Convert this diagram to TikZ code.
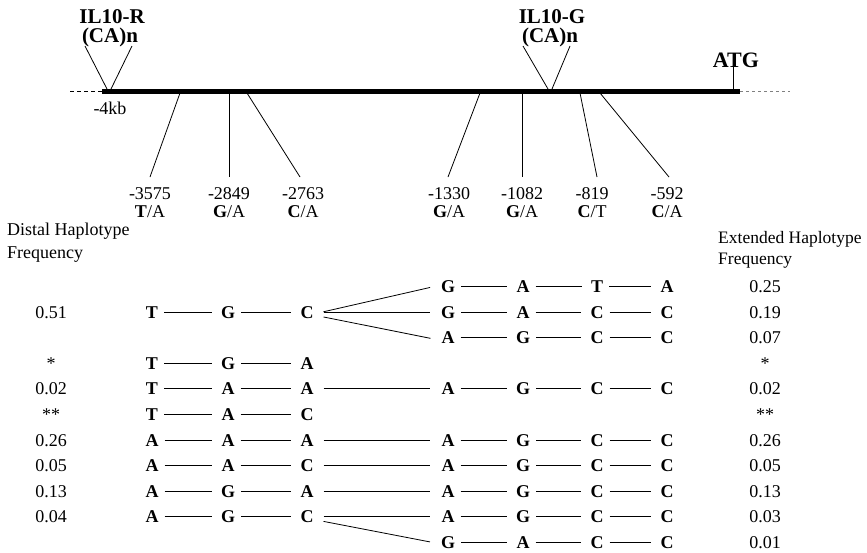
\documentclass[tikz,border=0pt]{standalone}
\usepackage{fontspec}
\setmainfont{Liberation Serif}
\begin{document}
\begin{tikzpicture}[x=1pt,y=-1pt,
  txt/.style={inner sep=0pt, font=\fontsize{18}{20}\selectfont},
  nuc/.style={txt, font=\fontsize{18}{20}\selectfont\bfseries, text height=12pt, text depth=0pt},
  freq/.style={txt, text height=12pt, text depth=0pt},
  big/.style={inner sep=0pt, font=\fontsize{21}{22}\selectfont\bfseries},
  conn/.style={line width=0.8pt, shorten <=6pt, shorten >=9pt},
  lconn/.style={line width=0.8pt, shorten <=10pt, shorten >=11pt},
  tick/.style={line width=0.8pt}]
\useasboundingbox (0,0) rectangle (867,552);
\def\ca{152}\def\cb{228}\def\cc{307}\def\cd{448}\def\ce{523}\def\cf{597}\def\cg{667}
\def\fl{51}\def\fr{765}
% gene line
\coordinate (L0) at (70,91); \coordinate (L1) at (102,91);
\coordinate (L2) at (740,91); \coordinate (L3) at (790,91);
\draw[line width=1pt, dash pattern=on 4pt off 3pt] (L0) -- (L1);
\draw[line width=5pt] (L1) -- (L2);
\draw[line width=0.8pt, gray, dash pattern=on 3pt off 3pt] (L2) -- (L3);
% ATG
\node[big, font=\fontsize{22}{22}\selectfont\bfseries, anchor=base] (atg) at (736,67) {ATG};
\coordinate (atgb) at (733,89);
\draw[tick] (atg.south -| atgb) -- (atgb);
% IL10-R
\node[big, anchor=base, text depth=0pt] (ilr) at (112,23) {IL10-R};
\node[big, anchor=base, text height=13pt] (car) at (110,42) {(CA)n};
\coordinate (r1) at (85,46); \coordinate (r2) at (107,89);
\coordinate (r3) at (132,46); \coordinate (r4) at (111,89);
\draw[tick] (r1) -- (r2); \draw[tick] (r3) -- (r4);
\node[txt, anchor=base] (kb) at (110,114) {-4kb};
% IL10-G
\node[big, anchor=base, text depth=0pt] (ilg) at (552,23) {IL10-G};
\node[big, anchor=base, text height=13pt] (cag) at (550,42) {(CA)n};
\coordinate (g1) at (523,46); \coordinate (g2) at (548,89);
\coordinate (g3) at (570,46); \coordinate (g4) at (552,89);
\draw[tick] (g1) -- (g2); \draw[tick] (g3) -- (g4);
% SNP ticks and labels
\foreach \n/\tx/\bx/\lx/\num/\al in {
  1/180/150/150/-3575/{\textbf{T}/A},
  2/229/229/229/-2849/{\textbf{G}/A},
  3/247/300/303/-2763/{\textbf{C}/A},
  4/480/448/449/-1330/{\textbf{G}/A},
  5/522/522/522/-1082/{\textbf{G}/A},
  6/580/597/592/-819/{\textbf{C}/T},
  7/600/669/667/-592/{\textbf{C}/A}}{
  \coordinate (st\n) at (\tx,93);
  \coordinate (sb\n) at (\bx,177);
  \draw[tick] (st\n) -- (sb\n);
  \node[freq] (sn\n) at (\lx,193) {\num};
  \node[freq] (sa\n) at (\lx,211) {\al};
}
% column headings
\node[txt, anchor=base west] (dh1) at (7,235) {Distal Haplotype};
\node[txt, anchor=base west] (dh2) at (7,258) {Frequency};
\node[txt, anchor=base west, font=\fontsize{17.5}{20}\selectfont] (eh1) at (718,243) {Extended Haplotype};
\node[txt, anchor=base west, font=\fontsize{17.5}{20}\selectfont] (eh2) at (718,264) {Frequency};
% rows
\def\ya{286}\def\yb{312}\def\yc{337.5}\def\yd{363}\def\ye{388.5}\def\yf{414}
\def\yg{440}\def\yh{465.5}\def\yi{491}\def\yj{516.5}\def\yk{542}
% row 1
\node[nuc] (a4) at (\cd,\ya) {G}; \node[nuc] (a5) at (\ce,\ya) {A};
\node[nuc] (a6) at (\cf,\ya) {T}; \node[nuc] (a7) at (\cg,\ya) {A};
\draw[conn] (a4) -- (a5); \draw[conn] (a5) -- (a6); \draw[conn] (a6) -- (a7);
\node[freq] (fa) at (\fr,\ya) {0.25};
% row 2
\node[nuc] (b1) at (\ca,\yb) {T}; \node[nuc] (b2) at (\cb,\yb) {G}; \node[nuc] (b3) at (\cc,\yb) {C};
\node[nuc] (b4) at (\cd,\yb) {G}; \node[nuc] (b5) at (\ce,\yb) {A};
\node[nuc] (b6) at (\cf,\yb) {C}; \node[nuc] (b7) at (\cg,\yb) {C};
\draw[conn] (b1) -- (b2); \draw[conn] (b2) -- (b3);
\draw[conn] (b4) -- (b5); \draw[conn] (b5) -- (b6); \draw[conn] (b6) -- (b7);
\node[freq] (lb) at (\fl,\yb) {0.51}; \node[freq] (fb) at (\fr,\yb) {0.19};
% row 3
\node[nuc] (c4) at (\cd,\yc) {A}; \node[nuc] (c5) at (\ce,\yc) {G};
\node[nuc] (c6) at (\cf,\yc) {C}; \node[nuc] (c7) at (\cg,\yc) {C};
\draw[conn] (c4) -- (c5); \draw[conn] (c5) -- (c6); \draw[conn] (c6) -- (c7);
\node[freq] (fc) at (\fr,\yc) {0.07};
% fan from b3
\draw[lconn] ([yshift=-2pt]b3.east) -- ([yshift=1pt]a4.west);
\draw[lconn] (b3.east) -- (b4.west);
\draw[lconn] ([yshift=-3pt]b3.east) -- ([yshift=-3pt]c4.west);
% row 4
\node[nuc] (d1) at (\ca,\yd) {T}; \node[nuc] (d2) at (\cb,\yd) {G}; \node[nuc] (d3) at (\cc,\yd) {A};
\draw[conn] (d1) -- (d2); \draw[conn] (d2) -- (d3);
\node[freq] (ld) at (\fl,\yd) {*}; \node[freq] (fd) at (\fr,\yd) {*};
% row 5
\node[nuc] (e1) at (\ca,\ye) {T}; \node[nuc] (e2) at (\cb,\ye) {A}; \node[nuc] (e3) at (\cc,\ye) {A};
\node[nuc] (e4) at (\cd,\ye) {A}; \node[nuc] (e5) at (\ce,\ye) {G};
\node[nuc] (e6) at (\cf,\ye) {C}; \node[nuc] (e7) at (\cg,\ye) {C};
\draw[conn] (e1) -- (e2); \draw[conn] (e2) -- (e3); \draw[lconn] (e3) -- (e4);
\draw[conn] (e4) -- (e5); \draw[conn] (e5) -- (e6); \draw[conn] (e6) -- (e7);
\node[freq] (le) at (\fl,\ye) {0.02}; \node[freq] (fe) at (\fr,\ye) {0.02};
% row 6
\node[nuc] (f1) at (\ca,\yf) {T}; \node[nuc] (f2) at (\cb,\yf) {A}; \node[nuc] (f3) at (\cc,\yf) {C};
\draw[conn] (f1) -- (f2); \draw[conn] (f2) -- (f3);
\node[freq] (lf) at (\fl,\yf) {**}; \node[freq] (ff) at (\fr,\yf) {**};
% row 7
\node[nuc] (g1n) at (\ca,\yg) {A}; \node[nuc] (g2n) at (\cb,\yg) {A}; \node[nuc] (g3n) at (\cc,\yg) {A};
\node[nuc] (g4n) at (\cd,\yg) {A}; \node[nuc] (g5n) at (\ce,\yg) {G};
\node[nuc] (g6n) at (\cf,\yg) {C}; \node[nuc] (g7n) at (\cg,\yg) {C};
\draw[conn] (g1n) -- (g2n); \draw[conn] (g2n) -- (g3n); \draw[lconn] (g3n) -- (g4n);
\draw[conn] (g4n) -- (g5n); \draw[conn] (g5n) -- (g6n); \draw[conn] (g6n) -- (g7n);
\node[freq] (lg) at (\fl,\yg) {0.26}; \node[freq] (fg) at (\fr,\yg) {0.26};
% row 8
\node[nuc] (h1) at (\ca,\yh) {A}; \node[nuc] (h2) at (\cb,\yh) {A}; \node[nuc] (h3) at (\cc,\yh) {C};
\node[nuc] (h4) at (\cd,\yh) {A}; \node[nuc] (h5) at (\ce,\yh) {G};
\node[nuc] (h6) at (\cf,\yh) {C}; \node[nuc] (h7) at (\cg,\yh) {C};
\draw[conn] (h1) -- (h2); \draw[conn] (h2) -- (h3); \draw[lconn] (h3) -- (h4);
\draw[conn] (h4) -- (h5); \draw[conn] (h5) -- (h6); \draw[conn] (h6) -- (h7);
\node[freq] (lh) at (\fl,\yh) {0.05}; \node[freq] (fh) at (\fr,\yh) {0.05};
% row 9
\node[nuc] (i1) at (\ca,\yi) {A}; \node[nuc] (i2) at (\cb,\yi) {G}; \node[nuc] (i3) at (\cc,\yi) {A};
\node[nuc] (i4) at (\cd,\yi) {A}; \node[nuc] (i5) at (\ce,\yi) {G};
\node[nuc] (i6) at (\cf,\yi) {C}; \node[nuc] (i7) at (\cg,\yi) {C};
\draw[conn] (i1) -- (i2); \draw[conn] (i2) -- (i3); \draw[lconn] (i3) -- (i4);
\draw[conn] (i4) -- (i5); \draw[conn] (i5) -- (i6); \draw[conn] (i6) -- (i7);
\node[freq] (li) at (\fl,\yi) {0.13}; \node[freq] (fi) at (\fr,\yi) {0.13};
% row 10
\node[nuc] (j1) at (\ca,\yj) {A}; \node[nuc] (j2) at (\cb,\yj) {G}; \node[nuc] (j3) at (\cc,\yj) {C};
\node[nuc] (j4) at (\cd,\yj) {A}; \node[nuc] (j5) at (\ce,\yj) {G};
\node[nuc] (j6) at (\cf,\yj) {C}; \node[nuc] (j7) at (\cg,\yj) {C};
\draw[conn] (j1) -- (j2); \draw[conn] (j2) -- (j3); \draw[lconn] (j3) -- (j4);
\draw[conn] (j4) -- (j5); \draw[conn] (j5) -- (j6); \draw[conn] (j6) -- (j7);
\node[freq] (lj) at (\fl,\yj) {0.04}; \node[freq] (fj) at (\fr,\yj) {0.03};
% row 11
\node[nuc] (k4) at (\cd,\yk) {G}; \node[nuc] (k5) at (\ce,\yk) {A};
\node[nuc] (k6) at (\cf,\yk) {C}; \node[nuc] (k7) at (\cg,\yk) {C};
\draw[conn] (k4) -- (k5); \draw[conn] (k5) -- (k6); \draw[conn] (k6) -- (k7);
\draw[lconn] ([yshift=-3pt]j3.east) -- ([yshift=-2pt]k4.west);
\node[freq] (fk) at (\fr,\yk) {0.01};
\end{tikzpicture}
\end{document}
